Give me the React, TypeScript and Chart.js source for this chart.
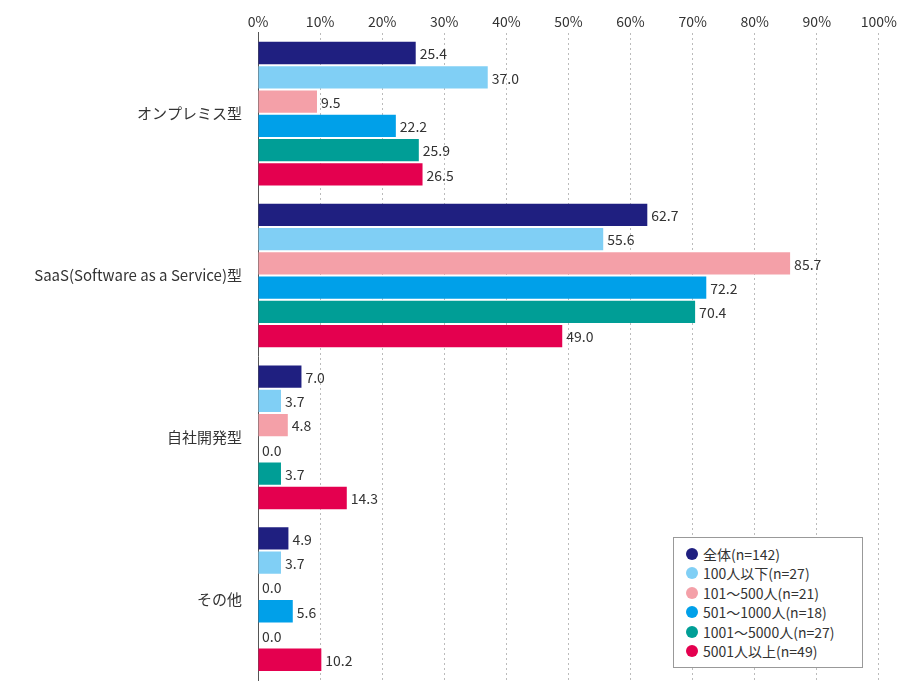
import React, { useEffect, useRef } from "react";
import { Chart, registerables } from "chart.js";
Chart.register(...registerables);

const categories = ["オンプレミス型", "SaaS(Software as a Service)型", "自社開発型", "その他"];
const seriesNames = ["全体(n=142)", "100人以下(n=27)", "101～500人(n=21)", "501～1000人(n=18)", "1001～5000人(n=27)", "5001人以上(n=49)"];
const colors = ["#1f1f80", "#80cff5", "#f4a0a8", "#00a0e9", "#009e96", "#e4004f"];
const s0 = [25.4, 62.7, 7.0, 4.9];
const s1 = [37.0, 55.6, 3.7, 3.7];
const s2 = [9.5, 85.7, 4.8, 0.0];
const s3 = [22.2, 72.2, 0.0, 5.6];
const s4 = [25.9, 70.4, 3.7, 0.0];
const s5 = [26.5, 49.0, 14.3, 10.2];
const series = [s0, s1, s2, s3, s4, s5];

const FONT = "'Noto Sans CJK JP', 'Noto Sans', sans-serif";

const labelPlugin = {
  id: "vals",
  afterDatasetsDraw(chart: any) {
    const ctx = chart.ctx;
    ctx.save();
    ctx.font = `14px ${FONT}`;
    ctx.fillStyle = "#333";
    ctx.textBaseline = "middle";
    chart.data.datasets.forEach((ds: any, i: number) => {
      chart.getDatasetMeta(i).data.forEach((bar: any, j: number) => {
        ctx.fillText(ds.data[j].toFixed(1), bar.x + 4, bar.y + 1);
      });
    });
    ctx.restore();
  },
};

export default function App() {
  const ref = useRef<HTMLCanvasElement>(null);
  useEffect(() => {
    const chart = new Chart(ref.current!, {
      type: "bar",
      data: {
        labels: categories,
        datasets: series.map((d, i) => ({
          label: seriesNames[i],
          data: d,
          backgroundColor: colors[i],
          categoryPercentage: 0.9,
          barPercentage: 0.92,
        })),
      },
      options: {
        indexAxis: "y",
        animation: false,
        responsive: false,
        layout: { padding: { right: 7, bottom: 20, top: 10 } },
        plugins: { legend: { display: false }, tooltip: { enabled: false } },
        scales: {
          x: {
            position: "top",
            min: 0,
            max: 100,
            ticks: { stepSize: 10, callback: (v: any) => v + "%", color: "#333", font: { family: FONT, size: 14 } },
            grid: { color: "#bbb", drawTicks: false },
            border: { display: false, dash: [2, 3] } as any,
          },
          y: {
            afterFit: (s: any) => { s.width = 258; },
            ticks: { color: "#333", font: { family: FONT, size: 15 }, padding: 8 },
            grid: { display: false },
            border: { color: "#555" },
          },
        },
      } as any,
      plugins: [labelPlugin],
    });
    return () => chart.destroy();
  }, []);
  return (
    <div style={{ position: "fixed", left: 0, top: 0, width: 900, height: 700, background: "#fff" }}>
      <canvas ref={ref} width={900} height={700} />
      <div style={{ position: "absolute", left: 673, top: 537, width: 190, height: 131, border: "1px solid #999", background: "#fff", boxSizing: "border-box", padding: "6px 0 0 12px", fontFamily: FONT, fontSize: 14, color: "#333" }}>
        {seriesNames.map((n, i) => (
          <div key={n} style={{ display: "flex", alignItems: "center", height: 19.5 }}>
            <span style={{ width: 12, height: 12, borderRadius: "50%", background: colors[i], marginRight: 5 }} />
            {n}
          </div>
        ))}
      </div>
    </div>
  );
}
